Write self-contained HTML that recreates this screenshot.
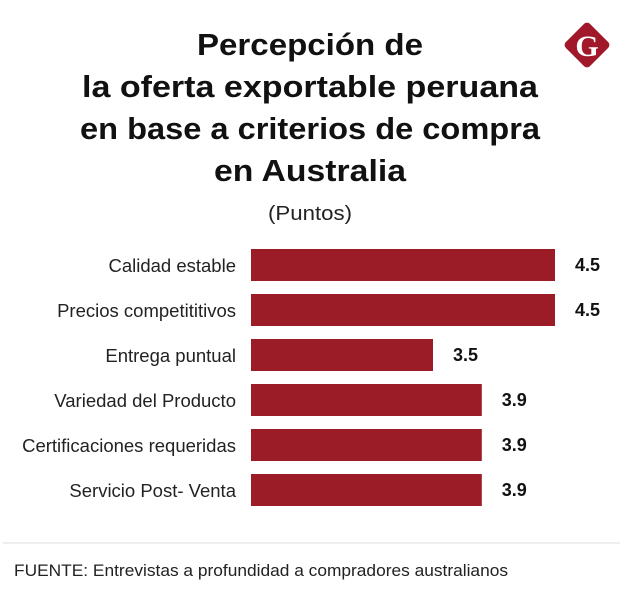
<!DOCTYPE html>
<html><head><meta charset="utf-8"><style>
html,body{margin:0;padding:0;background:#fff;}
svg{display:block;font-family:"Liberation Sans",sans-serif;}
</style></head><body>
<svg id="chart" width="620" height="616" viewBox="0 0 620 616">
<g font-weight="bold" font-size="31" fill="#111" text-anchor="middle">
<text x="310" y="55" textLength="226" lengthAdjust="spacingAndGlyphs">Percepción de</text>
<text x="310" y="97" textLength="456" lengthAdjust="spacingAndGlyphs">la oferta exportable peruana</text>
<text x="310" y="139" textLength="460" lengthAdjust="spacingAndGlyphs">en base a criterios de compra</text>
<text x="310" y="181" textLength="192" lengthAdjust="spacingAndGlyphs">en Australia</text>
</g>
<text x="310" y="220" font-size="20" fill="#222" text-anchor="middle" textLength="84" lengthAdjust="spacingAndGlyphs">(Puntos)</text>
<g>
<rect x="570" y="28" width="34" height="34" rx="4" fill="#a0182a" transform="rotate(45 587 45)"/>
<text x="587" y="56" font-family="Liberation Serif,serif" font-weight="bold" font-size="30" fill="#fff" text-anchor="middle">G</text>
</g>
<g id="bars"></g>
<line x1="3" y1="543" x2="620" y2="543" stroke="#ddd" stroke-width="1"/>
<text x="14" y="576" font-size="17" fill="#222" textLength="494" lengthAdjust="spacingAndGlyphs">FUENTE: Entrevistas a profundidad a compradores australianos</text>
</svg>
<script>
const categories = ["Calidad estable","Precios competititivos","Entrega puntual","Variedad del Producto","Certificaciones requeridas","Servicio Post- Venta"];
const values = [4.5,4.5,3.5,3.9,3.9,3.9];
const valueLabels = ["4.5","4.5","3.5","3.9","3.9","3.9"];
const NS="http://www.w3.org/2000/svg";
const xScale = v => 6 + 122*v;
const barStart = 251;
const yTop = i => 249 + 45*i;
const g=document.getElementById('bars');
categories.forEach((c,i)=>{
  const y=yTop(i);
  const r=document.createElementNS(NS,'rect');
  
  
  r.setAttribute('x',barStart);r.setAttribute('y',y);
  r.setAttribute('width',Math.max(0,xScale(values[i])-barStart));r.setAttribute('height',32);
  r.setAttribute('fill','#9b1c27');g.appendChild(r);
  const t=document.createElementNS(NS,'text');
  
  
  t.setAttribute('x',236);t.setAttribute('y',y+23);t.setAttribute('text-anchor','end');
  t.setAttribute('font-size','18.5');t.setAttribute('fill','#222');t.textContent=c;g.appendChild(t);
  const v=document.createElementNS(NS,'text');
  
  
  v.setAttribute('x',xScale(values[i])+20);v.setAttribute('y',y+22);
  v.setAttribute('font-size','18');v.setAttribute('font-weight','bold');v.setAttribute('fill','#111');
  v.textContent=valueLabels[i];g.appendChild(v);
});
</script>
</body></html>
